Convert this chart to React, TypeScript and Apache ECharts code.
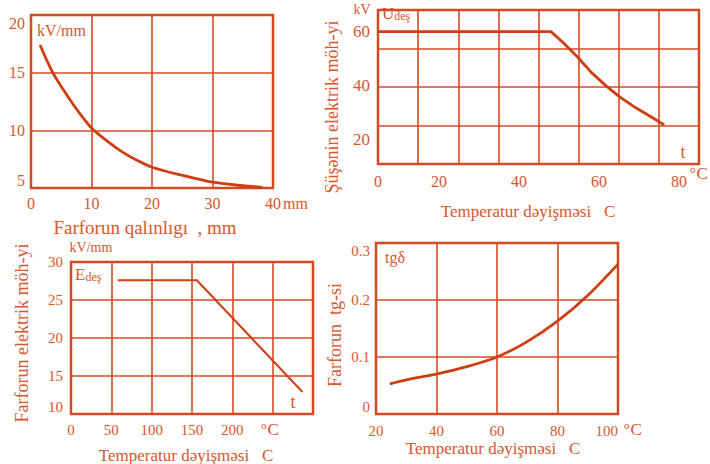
import React, { useEffect, useRef } from "react";
import * as echarts from "echarts";

// Panel 1: dielectric strength of porcelain vs thickness
const thicknessMm = [1.5, 3.6, 6, 8, 10, 12.5, 15, 17.5, 20, 25, 30, 35, 38.2];
const strengthKvMm = [17.4, 15, 13.0, 11.5, 10.2, 9.1, 8.15, 7.4, 6.8, 6.1, 5.5, 5.2, 5.05];
const p1XTicks = [0, 10, 20, 30, 40];
const p1YTicks = [5, 10, 15, 20];

// Panel 2: glass breakdown voltage vs temperature
const glassTemp = [5, 48, 51, 54.7, 58, 61.7, 65, 69.2, 73, 76.3];
const glassKv = [60, 60, 56, 50.5, 45, 40, 36, 31.8, 28.5, 25.5];
const p2XLabels = [0, 20, 40, 60, 80];
const p2YLabels = [20, 40, 60];

// Panel 3: porcelain dielectric strength vs temperature
const porcTemp = [58, 156, 287];
const porcKvMm = [27.6, 27.6, 12.9];
const p3XLabels = [0, 50, 100, 150, 200];

// Panel 4: porcelain tg delta vs temperature
const tgTemp = [24.6, 30, 40, 50, 60, 70, 80, 90, 100];
const tgValue = [0.053, 0.06, 0.07, 0.083, 0.1, 0.127, 0.163, 0.208, 0.263];

const LINE = "#cf3e12";
const GRIDC = "#d44a22";
const TEXT = "#d9552c";
const FONT = "Liberation Serif";

const zip = (a: number[], b: number[]) => a.map((v, i) => [v, b[i]]);

export default function App() {
  const ref = useRef<HTMLDivElement>(null);
  useEffect(() => {
    if (!ref.current) return;
    const chart = echarts.init(ref.current, undefined, { renderer: "svg" });
    const gridBase = { show: true, borderColor: GRIDC, borderWidth: 2.5, backgroundColor: "transparent" };
    const splitLine = { show: true, lineStyle: { color: GRIDC, width: 1.6 } };
    const lbl = (size: number, margin: number, extra: any = {}) => ({
      color: TEXT,
      fontFamily: FONT,
      fontSize: size,
      margin,
      ...extra,
    });
    const hidden = {
      axisLine: { show: false },
      axisTick: { show: false },
      axisLabel: { show: false },
    };
    const plain = { axisLine: { show: false }, axisTick: { show: false } };

    const t = (x: number, y: number, text: string, size: number, extra: any = {}) => ({
      type: "text",
      x,
      y,
      style: {
        text,
        fill: TEXT,
        font: `${size}px "${FONT}"`,
        align: "center",
        verticalAlign: "middle",
        ...extra,
      },
    });
    const sub = { sub: { fontSize: 12, fontFamily: FONT, fill: TEXT, verticalAlign: "bottom", padding: [6, 0, 0, 0] } };
    const sup = { sup: { fontSize: 11, fontFamily: FONT, fill: TEXT, verticalAlign: "top", padding: [0, 1, 8, 0] } };

    const option: any = {
      animation: false,
      grid: [
        { ...gridBase, left: 31, top: 15, width: 242, height: 173 },
        { ...gridBase, left: 378, top: 10, width: 321, height: 154 },
        { ...gridBase, left: 71, top: 262, width: 242, height: 152 },
        { ...gridBase, left: 376, top: 243, width: 242, height: 171 },
      ],
      xAxis: [
        {
          gridIndex: 0, type: "value", min: p1XTicks[0], max: p1XTicks[p1XTicks.length - 1], interval: 10,
          ...plain, splitLine, axisLabel: lbl(16, 7),
        },
        {
          gridIndex: 1, type: "value", min: 4.75, max: 85, splitNumber: 4,
          ...plain, splitLine: { show: false },
          axisLabel: lbl(16, 9, {
            showMaxLabel: true,
            formatter: (v: number) => (v < 10 ? String(p2XLabels[0]) : p2XLabels.includes(v) ? String(v) : ""),
          }),
        },
        {
          gridIndex: 1, type: "value", min: 0, max: 8, interval: 1, position: "bottom",
          ...hidden, splitLine,
        },
        {
          gridIndex: 2, type: "value", min: 0, max: 300, interval: 50,
          ...plain, splitLine,
          axisLabel: lbl(15, 8, { formatter: (v: number) => (p3XLabels.includes(v) ? String(v) : "") }),
        },
        {
          gridIndex: 3, type: "value", min: 20, max: 100, interval: 20,
          ...plain, splitLine, axisLabel: lbl(15, 9, { alignMaxLabel: "right" }),
        },
      ],
      yAxis: [
        {
          gridIndex: 0, type: "value", min: p1YTicks[0], max: p1YTicks[p1YTicks.length - 1], interval: 5,
          ...plain, splitLine,
          axisLabel: lbl(16, 6, { verticalAlignMaxLabel: "top", verticalAlignMinLabel: "bottom" }),
        },
        {
          gridIndex: 1, type: "value", min: 11, max: 68, splitNumber: 3,
          ...plain, splitLine: { show: false },
          axisLabel: lbl(17, 8, { formatter: (v: number) => (p2YLabels.includes(v) ? String(v) : "") }),
        },
        {
          gridIndex: 1, type: "value", min: 0, max: 4, interval: 1, position: "left",
          ...hidden, splitLine,
        },
        {
          gridIndex: 2, type: "value", min: 10, max: 30, interval: 5,
          ...plain, splitLine, axisLabel: lbl(15, 8, { verticalAlignMinLabel: "bottom" }),
        },
        {
          gridIndex: 3, type: "value", min: 0, max: 0.3, interval: 0.1,
          ...plain, splitLine,
          axisLabel: lbl(15, 6, { verticalAlignMaxLabel: "top", verticalAlignMinLabel: "bottom" }),
        },
      ],
      series: [
        {
          type: "line", xAxisIndex: 0, yAxisIndex: 0, data: zip(thicknessMm, strengthKvMm),
          smooth: 0.3, showSymbol: false, symbol: "none", lineStyle: { color: LINE, width: 2.8 },
        },
        {
          type: "line", xAxisIndex: 1, yAxisIndex: 1, data: zip(glassTemp, glassKv),
          smooth: false, showSymbol: false, symbol: "none", lineStyle: { color: LINE, width: 2.8 },
        },
        {
          type: "line", xAxisIndex: 3, yAxisIndex: 3, data: zip(porcTemp, porcKvMm),
          smooth: false, showSymbol: false, symbol: "none", lineStyle: { color: LINE, width: 2 },
        },
        {
          type: "line", xAxisIndex: 4, yAxisIndex: 4, data: zip(tgTemp, tgValue),
          smooth: 0.3, showSymbol: false, symbol: "none", lineStyle: { color: LINE, width: 2.8 },
        },
      ],
      graphic: [
        // Panel 1
        t(37, 30, "kV/mm", 16, { align: "left" }),
        t(283, 203, "mm", 16, { align: "left" }),
        t(145, 227, "Farforun qalınlıgı  , mm", 19),
        // Panel 2
        t(362, 9, "kV", 14),
        t(382, 13, "U{sub|deş}", 17, { align: "left", rich: sub }),
        t(683, 152, "t", 18),
        t(690, 173, "{sup|o}C", 17, { align: "left", rich: sup }),
        { ...t(332, 107, "Şüşənin elektrik möh-yi", 18), rotation: Math.PI / 2 },
        t(528, 211, "Temperatur dəyişməsi   C", 17),
        // Panel 3
        t(91, 247, "kV/mm", 14),
        t(75, 274, "E{sub|deş}", 17, { align: "left", rich: sub }),
        t(293, 402, "t", 18),
        t(261, 429, "{sup|o}C", 17, { align: "left", rich: sup }),
        { ...t(22, 333, "Farforun elektrik möh-yi", 18), rotation: Math.PI / 2 },
        t(186, 455, "Temperatur dəyişməsi   C", 17),
        // Panel 4
        t(385, 257, "tgδ", 16, { align: "left" }),
        t(624, 429, "{sup|o}C", 17, { align: "left", rich: sup }),
        { ...t(335, 335, "Farforun  tg-si", 18), rotation: Math.PI / 2 },
        t(493, 448, "Temperatur dəyişməsi   C", 17),
      ],
    };
    chart.setOption(option);
    return () => chart.dispose();
  }, []);
  return (
    <div
      ref={ref}
      style={{ position: "fixed", left: 0, top: 0, width: 710, height: 464, background: "#fff" }}
    />
  );
}
